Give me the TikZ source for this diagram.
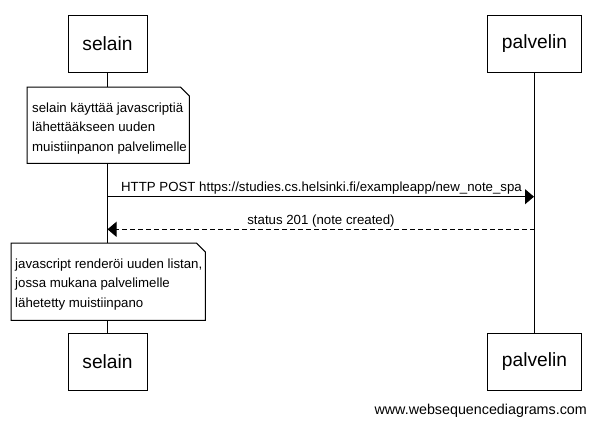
\documentclass[tikz,border=0pt]{standalone}
\usepackage{fontspec}
\setmainfont{Liberation Sans}
\usetikzlibrary{arrows.meta}
\begin{document}
\begin{tikzpicture}[x=1pt,y=-1pt,
  actor/.style={draw,line width=1pt,fill=white,minimum height=57pt,inner sep=0pt,font=\fontsize{19.2}{22}\selectfont},
  notebox/.style={inner sep=0pt,anchor=north west},
  notetext/.style={anchor=base west,inner sep=0pt,font=\fontsize{13.25}{15}\selectfont},
  msg/.style={line width=1pt,-{Triangle[length=9pt,width=15pt]}},
  lbl/.style={anchor=base,inner sep=0pt,font=\fontsize{13.25}{15}\selectfont},
  life/.style={line width=1pt}]
\useasboundingbox (0,0) rectangle (596,424);
% actors
\node[actor,minimum width=79pt] (s1) at (107.5,43.5) {selain};
\node[actor,minimum width=94pt] (p1) at (534.5,43.5) {palvelin};
\node[actor,minimum width=79pt] (s2) at (107.5,361.5) {selain};
\node[actor,minimum width=94pt] (p2) at (534.5,361.5) {palvelin};
% lifelines
\draw[life] (s1.south) -- (s2.north);
\draw[life] (p1.south) -- (p2.north);
% note 1
\node[notebox,minimum width=162pt,minimum height=76pt] (n1) at (27,87) {};
\draw[line width=1pt,fill=white] (n1.north west) -- ([xshift=-9pt]n1.north east) -- ([yshift=-9pt]n1.north east) -- (n1.south east) -- (n1.south west) -- cycle;
\node[notetext] (n1a) at (32,112) {selain käyttää javascriptiä};
\node[notetext] (n1b) at (32,131.5) {lähettääkseen uuden};
\node[notetext] (n1c) at (32,151) {muistiinpanon palvelimelle};
% messages
\coordinate (m1s) at (107.5,196.7);
\coordinate (m1e) at (534,196.7);
\draw[msg] (m1s) -- (m1e);
\node[lbl] (l1) at (321.5,191.5) {HTTP POST https://studies.cs.helsinki.fi/exampleapp/new\_note\_spa};
\coordinate (m2s) at (534.5,229.3);
\coordinate (m2e) at (107.5,229.3);
\draw[msg,dash pattern=on 5pt off 3pt] (m2s) -- (m2e);
\node[lbl] (l2) at (321,224) {status 201 (note created)};
% note 2
\node[notebox,minimum width=194pt,minimum height=77pt] (n2) at (11,243) {};
\draw[line width=1pt,fill=white] (n2.north west) -- ([xshift=-9pt]n2.north east) -- ([yshift=-9pt]n2.north east) -- (n2.south east) -- (n2.south west) -- cycle;
\node[notetext] (n2a) at (15,268) {javascript renderöi uuden listan,};
\node[notetext] (n2b) at (15,287.5) {jossa mukana palvelimelle};
\node[notetext] (n2c) at (15,307) {lähetetty muistiinpano};
% footer
\node[anchor=base east,inner sep=0pt,font=\fontsize{14.3}{16}\selectfont] (ft) at (587,414) {www.websequencediagrams.com};
\end{tikzpicture}
\end{document}
